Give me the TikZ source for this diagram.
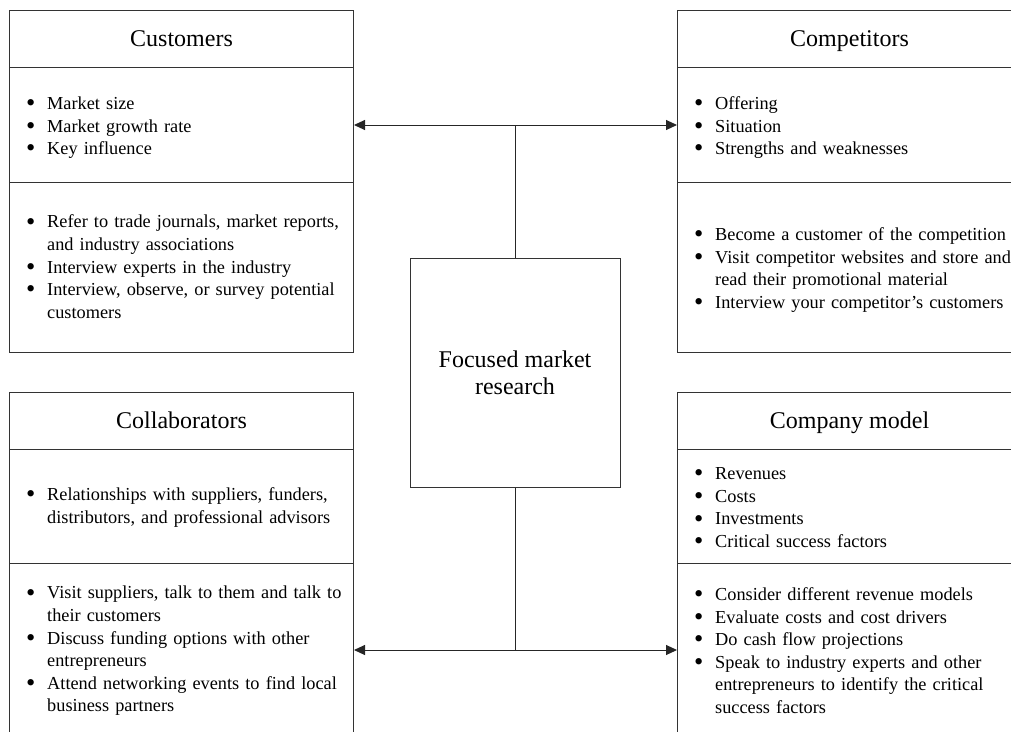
\documentclass[tikz,border=0pt]{standalone}
\usepackage{fontspec}
\setmainfont{Liberation Serif}
\usepackage{graphicx}
\usetikzlibrary{arrows.meta}

% bullet item with hanging indent; each item is its own paragraph
\newcommand\bitem[1]{\hangindent=21pt\hangafter=1\noindent
  \makebox[21pt][l]{\raisebox{-2.2pt}{\scalebox{1.45}{\textbullet}}}#1\strut\par}

\tikzset{
  frame/.style={draw=black!80, line width=1pt, inner sep=0pt, anchor=north west,
                minimum width=344pt},
  title/.style={font=\fontsize{24}{27}\selectfont, text height=20pt, text depth=5pt,
                inner sep=0pt},
  items/.style={anchor=west, inner sep=0pt, text width=340pt, align=left,
                font=\fontsize{18.3}{22.6}\selectfont, xshift=17pt, yshift=-2.5pt,
                execute at begin node={\hyphenpenalty=10000}},
  link/.style={draw=black!85, line width=1pt},
  twoway/.style={link, {Triangle[length=11pt,width=10pt]}-{Triangle[length=11pt,width=10pt]}}
}

\begin{document}
\begin{tikzpicture}[x=1pt, y=-1pt]
\useasboundingbox (0,0) rectangle (1011,731);
\clip (0,0) rectangle (1011,731);

% ---- Customers (top left)
\node[frame, minimum height=57pt]  (cust-h) at (9,10)  {};
\node[frame, minimum height=115pt] (cust-m) at (9,67)  {};
\node[frame, minimum height=170pt] (cust-b) at (9,182) {};
\node[title] (cust-t) at (cust-h.center) {Customers};
\node[items] (cust-mt) at (cust-m.west) {%
  \bitem{Market size}
  \bitem{Market growth rate}
  \bitem{Key influence}};
\node[items] (cust-bt) at (cust-b.west) {%
  \bitem{Refer to trade journals, market reports,\newline and industry associations}
  \bitem{Interview experts in the industry}
  \bitem{Interview, observe, or survey potential\newline customers}};

% ---- Competitors (top right)
\node[frame, minimum height=57pt]  (comp-h) at (677,10)  {};
\node[frame, minimum height=115pt] (comp-m) at (677,67)  {};
\node[frame, minimum height=170pt] (comp-b) at (677,182) {};
\node[title] (comp-t) at (comp-h.center) {Competitors};
\node[items] (comp-mt) at (comp-m.west) {%
  \bitem{Offering}
  \bitem{Situation}
  \bitem{Strengths and weaknesses}};
\node[items] (comp-bt) at (comp-b.west) {%
  \bitem{Become a customer of the competition}
  \bitem{Visit competitor websites and store and\newline read their promotional material}
  \bitem{Interview your competitor’s customers}};

% ---- Collaborators (bottom left)
\node[frame, minimum height=57pt]  (coll-h) at (9,392) {};
\node[frame, minimum height=114pt] (coll-m) at (9,449) {};
\node[frame, minimum height=173pt] (coll-b) at (9,563) {};
\node[title] (coll-t) at (coll-h.center) {Collaborators};
\node[items] (coll-mt) at (coll-m.west) {%
  \bitem{Relationships with suppliers, funders,\newline distributors, and professional advisors}};
\node[items] (coll-bt) at (coll-b.west) {%
  \bitem{Visit suppliers, talk to them and talk to\newline their customers}
  \bitem{Discuss funding options with other\newline entrepreneurs}
  \bitem{Attend networking events to find local\newline business partners}};

% ---- Company model (bottom right)
\node[frame, minimum height=57pt]  (cmod-h) at (677,392) {};
\node[frame, minimum height=114pt] (cmod-m) at (677,449) {};
\node[frame, minimum height=173pt] (cmod-b) at (677,563) {};
\node[title] (cmod-t) at (cmod-h.center) {Company model};
\node[items] (cmod-mt) at (cmod-m.west) {%
  \bitem{Revenues}
  \bitem{Costs}
  \bitem{Investments}
  \bitem{Critical success factors}};
\node[items] (cmod-bt) at (cmod-b.west) {%
  \bitem{Consider different revenue models}
  \bitem{Evaluate costs and cost drivers}
  \bitem{Do cash flow projections}
  \bitem{Speak to industry experts and other\newline entrepreneurs to identify the critical\newline success factors}};

% ---- central box
\node[frame, minimum width=210pt, minimum height=229pt, anchor=center,
      align=center, font=\fontsize{24}{27}\selectfont] (focus) at (515,372.5)
      {Focused market\\research};

% ---- connectors
\draw[twoway] (cust-m.east) -- (comp-m.west);
\draw[link] (focus.north) -- (focus.north |- cust-m.east);
\draw[twoway] (coll-b.east) -- (cmod-b.west);
\draw[link] (focus.south) -- (focus.south |- coll-b.east);
\end{tikzpicture}
\end{document}
